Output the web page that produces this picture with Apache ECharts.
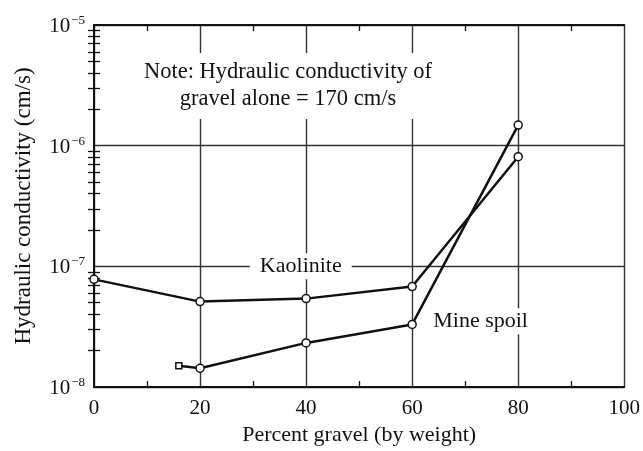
<!DOCTYPE html>
<html>
<head>
<meta charset="utf-8">
<script src="https://cdn.jsdelivr.net/npm/echarts@6/dist/echarts.min.js"></script>
<style>
  html, body { margin: 0; padding: 0; background: #fff; }
  #chart { width: 643px; height: 451px; }
</style>
</head>
<body>
<div id="chart"></div>
<script>
// Percent gravel (by weight) vs. hydraulic conductivity (cm/s)
const kaoliniteGravel = [0, 20, 40, 60, 80];
const kaoliniteK = [7.8e-8, 5.1e-8, 5.4e-8, 6.8e-8, 8.1e-7];

const mineSpoilGravel = [16, 20, 40, 60, 80];
const mineSpoilK = [1.5e-8, 1.43e-8, 2.32e-8, 3.3e-8, 1.48e-6];

const xMajorTicks = [0, 20, 40, 60, 80, 100];
const xMinorTicks = [10, 30, 50, 70, 90];
const yDecades = [1e-8, 1e-7, 1e-6, 1e-5];
const yMinorTicks = [];
for (let d = -8; d < -5; d++) {
  for (let m = 2; m <= 9; m++) yMinorTicks.push(m * Math.pow(10, d));
}

const noteText = 'Note: Hydraulic conductivity of\ngravel alone = 170 cm/s';

const FONT = '"Liberation Serif", "DejaVu Serif", serif';
const INK = '#111';

const pairs = (xs, ys) => xs.map((x, i) => [x, ys[i]]);

const exponentOf = v => Math.round(Math.log10(v));

const chart = echarts.init(document.getElementById('chart'), null, { renderer: 'canvas' });

const baseX = { type: 'value', min: 0, max: 100, interval: 20 };
const baseY = { type: 'log', logBase: 10, min: 1e-8, max: 1e-5 };

// invisible anchor used to carry an in-plot series label
const labelAnchor = (coord, text, labelOpts) => ({
  symbol: 'circle',
  symbolSize: 1,
  silent: true,
  itemStyle: { color: 'rgba(0,0,0,0)' },
  data: [{ coord: coord, value: text }],
  label: Object.assign({
    show: true, formatter: text,
    fontFamily: FONT, fontSize: 22, color: INK,
    backgroundColor: '#fff'
  }, labelOpts)
});

chart.setOption({
  animation: false,
  backgroundColor: '#fff',
  grid: { left: 94, right: 15, top: 25, bottom: 64, containLabel: false },
  xAxis: [
    Object.assign({}, baseX, {
      position: 'bottom',
      name: 'Percent gravel (by weight)',
      nameLocation: 'middle',
      nameGap: 36,
      nameTextStyle: { fontFamily: FONT, fontSize: 22, color: INK },
      axisLine: { show: true, lineStyle: { color: INK, width: 2 } },
      axisTick: { show: false },
      axisLabel: { fontFamily: FONT, fontSize: 21, color: INK, margin: 11,
        customValues: xMajorTicks },
      splitLine: { show: true, lineStyle: { color: '#333', width: 1.4 } }
    }),
    Object.assign({}, baseX, {
      position: 'top',
      axisLine: { show: true, lineStyle: { color: INK, width: 2 } },
      axisTick: { show: true, inside: true, length: 6, customValues: xMinorTicks,
        lineStyle: { color: INK, width: 1.3 } },
      axisLabel: { show: false },
      splitLine: { show: false }
    }),
    Object.assign({}, baseX, {
      position: 'bottom',
      axisLine: { show: false },
      axisTick: { show: true, inside: true, length: 6, customValues: xMinorTicks,
        lineStyle: { color: INK, width: 1.3 } },
      axisLabel: { show: false },
      splitLine: { show: false }
    })
  ],
  yAxis: [
    Object.assign({}, baseY, {
      position: 'left',
      name: 'Hydraulic conductivity (cm/s)',
      nameLocation: 'middle',
      nameGap: 59,
      nameTextStyle: { fontFamily: FONT, fontSize: 23, color: INK },
      axisLine: { show: true, lineStyle: { color: INK, width: 2 } },
      axisTick: { show: false },
      axisLabel: {
        margin: 9,
        customValues: yDecades,
        formatter: v => '{b|10}{s|−' + Math.abs(exponentOf(v)) + '}',
        rich: {
          b: { fontFamily: FONT, fontSize: 21, color: INK, verticalAlign: 'bottom', lineHeight: 24 },
          s: { fontFamily: FONT, fontSize: 13, color: INK, verticalAlign: 'bottom', lineHeight: 24, padding: [0, 0, 10, 1] }
        }
      },
      splitLine: { show: true, lineStyle: { color: '#333', width: 1.4 } }
    }),
    Object.assign({}, baseY, {
      position: 'right',
      axisLine: { show: true, lineStyle: { color: INK, width: 2 } },
      axisTick: { show: true, inside: true, length: 6, customValues: yMinorTicks,
        lineStyle: { color: INK, width: 1.3 } },
      axisLabel: { show: false },
      splitLine: { show: false }
    }),
    Object.assign({}, baseY, {
      position: 'left',
      axisLine: { show: false },
      axisTick: { show: true, inside: true, length: 6, customValues: yMinorTicks,
        lineStyle: { color: INK, width: 1.3 } },
      axisLabel: { show: false },
      splitLine: { show: false }
    })
  ],
  series: [
    {
      name: 'Kaolinite',
      type: 'line',
      xAxisIndex: 0, yAxisIndex: 0,
      data: pairs(kaoliniteGravel, kaoliniteK),
      symbol: 'circle',
      symbolSize: 8,
      showAllSymbol: true,
      lineStyle: { color: INK, width: 2.5 },
      itemStyle: { color: '#fff', borderColor: INK, borderWidth: 1.5 },
      z: 5,
      markPoint: labelAnchor([39, 1e-7], 'Kaolinite', { position: 'inside', padding: [2, 10] })
    },
    {
      name: 'Mine spoil',
      type: 'line',
      xAxisIndex: 0, yAxisIndex: 0,
      data: pairs(mineSpoilGravel, mineSpoilK),
      symbol: (val, params) => params.dataIndex === 0 ? 'rect' : 'circle',
      symbolSize: (val, params) => params.dataIndex === 0 ? 6 : 8,
      showAllSymbol: true,
      lineStyle: { color: INK, width: 2.5 },
      itemStyle: { color: '#fff', borderColor: INK, borderWidth: 1.5 },
      z: 5,
      markPoint: labelAnchor([63.5, 3.5e-8], 'Mine spoil', { position: 'right', distance: 0, padding: [2, 2] })
    }
  ],
  graphic: [
    {
      type: 'text',
      x: 288, y: 53,
      z: 10,
      style: {
        text: noteText,
        fontFamily: FONT, fontSize: 22.5, fill: INK,
        align: 'center', verticalAlign: 'top', lineHeight: 27,
        backgroundColor: '#fff', padding: [6, 4]
      }
    }
  ]
});
</script>
</body>
</html>
